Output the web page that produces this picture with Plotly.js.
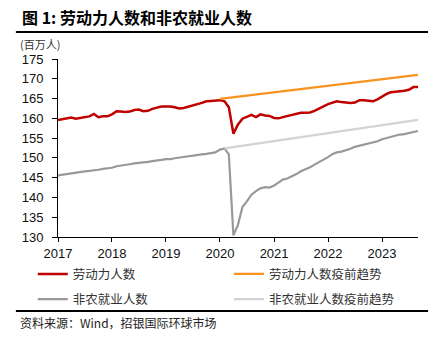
<!DOCTYPE html>
<html>
<head>
<meta charset="utf-8">
<script src="https://cdn.plot.ly/plotly-3.0.1.min.js"></script>
<style>html,body{margin:0;padding:0;background:#fff;}#chart{width:438px;height:350px;}</style>
</head>
<body>
<div id="chart"></div>
<script>
// Monthly dates 2017-01 .. 2023-09
const months = [];
for (let y = 2017; y <= 2023; y++) {
  for (let m = 1; m <= 12; m++) {
    if (y === 2023 && m > 9) break;
    months.push(y + '-' + String(m).padStart(2, '0') + '-01');
  }
}

// 劳动力人数 (百万人)
const laborForce = [
  159.6,159.8,160.1,160.2,159.9,160.1,160.3,160.5,161.1,160.3,160.5,160.5,
  161.0,161.8,161.7,161.6,161.7,162.1,162.2,161.8,161.9,162.4,162.7,163.0,
  163.0,163.0,162.8,162.5,162.6,163.0,163.3,163.6,163.9,164.3,164.4,164.5,
  164.6,164.3,162.8,156.1,158.4,159.9,160.3,160.9,160.3,161.0,160.7,160.6,
  160.1,160.0,160.3,160.6,160.8,161.2,161.4,161.4,161.5,161.9,162.4,163.0,
  163.6,164.0,164.3,164.1,164.0,163.9,164.0,164.6,164.6,164.5,164.3,164.8,
  165.6,166.2,166.6,166.7,166.8,167.0,167.2,167.9,167.9
];

// 非农就业人数 (百万人)
const payrolls = [
  145.6,145.8,146.0,146.1,146.3,146.5,146.6,146.7,146.8,147.0,147.2,147.4,
  147.5,147.9,148.0,148.2,148.4,148.6,148.7,148.9,149.0,149.2,149.3,149.5,
  149.7,149.7,149.9,150.1,150.2,150.4,150.5,150.7,150.9,151.0,151.2,151.4,
  152.1,152.4,150.9,130.4,133.0,137.6,139.0,140.7,141.6,142.3,142.6,142.5,
  143.0,143.8,144.5,144.8,145.3,145.9,146.6,147.1,147.6,148.3,148.9,149.5,
  150.2,151.0,151.4,151.6,151.9,152.3,152.8,153.1,153.4,153.7,154.0,154.2,
  154.7,155.0,155.3,155.6,155.9,156.0,156.3,156.5,156.8
];

// 疫前趋势 (start and end points of straight trend lines)
const lfTrendDates = ['2020-01-01', '2023-09-01'];
const lfTrend = [164.9, 171.0];
const nfpTrendDates = ['2020-02-01', '2023-09-01'];
const nfpTrend = [152.4, 159.6];

const names = ['劳动力人数', '劳动力人数疫前趋势', '非农就业人数', '非农就业人数疫前趋势'];
const yTicks = [130, 135, 140, 145, 150, 155, 160, 165, 170, 175];
const xTickVals = ['2017-01-01','2018-01-01','2019-01-01','2020-01-01','2021-01-01','2022-01-01','2023-01-01'];
const xTickText = ['2017','2018','2019','2020','2021','2022','2023'];

const cjk = '"Noto Sans CJK SC", "Noto Sans", sans-serif';
const latin = '"Liberation Sans", Arial, sans-serif';

const traces = [
  {x: months, y: laborForce, name: names[0], type: 'scatter', mode: 'lines',
   line: {color: '#C00000', width: 2.5}, legend: 'legend', legendgroup: 'a'},
  {x: months, y: payrolls, name: names[2], type: 'scatter', mode: 'lines',
   line: {color: '#999999', width: 2.2}, legend: 'legend', legendgroup: 'b'},
  {x: lfTrendDates, y: lfTrend, name: names[1], type: 'scatter', mode: 'lines',
   line: {color: '#F7931E', width: 2.2}, legend: 'legend2', legendgroup: 'c'},
  {x: nfpTrendDates, y: nfpTrend, name: names[3], type: 'scatter', mode: 'lines',
   line: {color: '#D3D3D3', width: 2.2}, legend: 'legend2', legendgroup: 'd'}
];

const legendCommon = {
  orientation: 'v', traceorder: 'grouped', tracegroupgap: 6,
  bgcolor: 'rgba(0,0,0,0)', borderwidth: 0,
  font: {family: cjk, size: 12.5, color: '#333333'},
  xanchor: 'left', yanchor: 'top', yref: 'paper', xref: 'paper'
};

const layout = {
  width: 438, height: 350,
  margin: {l: 58, r: 20, t: 59, b: 113},
  paper_bgcolor: '#ffffff', plot_bgcolor: '#ffffff',
  showlegend: true,
  legend: Object.assign({}, legendCommon, {x: -0.07, y: -0.125}),
  legend2: Object.assign({}, legendCommon, {x: 0.475, y: -0.125}),
  xaxis: {
    type: 'date', range: ['2017-01-01', '2023-09-01'],
    tickvals: xTickVals, ticktext: xTickText,
    ticks: 'outside', ticklen: 4, tickwidth: 1, tickcolor: '#000',
    showline: true, linecolor: '#000', linewidth: 1,
    showgrid: false, zeroline: false,
    tickfont: {family: latin, size: 13, color: '#111'}
  },
  yaxis: {
    range: [130, 175], tickvals: yTicks,
    ticks: 'outside', ticklen: 5, tickwidth: 1, tickcolor: '#000',
    showline: true, linecolor: '#000', linewidth: 1,
    showgrid: false, zeroline: false, ticklabelstandoff: 6,
    tickfont: {family: latin, size: 13, color: '#111'}
  },
  shapes: [
    {type: 'line', xref: 'paper', yref: 'paper', x0: -0.117, x1: 1.028, y0: 1.151, y1: 1.151,
     line: {color: '#000', width: 2}},
    {type: 'line', xref: 'paper', yref: 'paper', x0: -0.117, x1: 1.028, y0: -0.416, y1: -0.416,
     line: {color: '#000', width: 2}}
  ],
  annotations: [
    {text: '<b>图 1: 劳动力人数和非农就业人数</b>', xref: 'paper', yref: 'paper',
     x: -0.106, y: 1.235, xanchor: 'left', yanchor: 'middle', showarrow: false,
     font: {family: cjk, size: 16, color: '#000'}},
    {text: '(百万人)', xref: 'paper', yref: 'paper', x: -0.111, y: 1.086,
     xanchor: 'left', yanchor: 'middle', showarrow: false,
     font: {family: cjk, size: 11, color: '#333'}},
    {text: '资料来源：Wind，招银国际环球市场', xref: 'paper', yref: 'paper', x: -0.111, y: -0.483,
     xanchor: 'left', yanchor: 'middle', showarrow: false,
     font: {family: cjk, size: 12, color: '#222'}}
  ]
};

Plotly.newPlot('chart', traces, layout, {displayModeBar: false, staticPlot: true});
</script>
</body>
</html>
